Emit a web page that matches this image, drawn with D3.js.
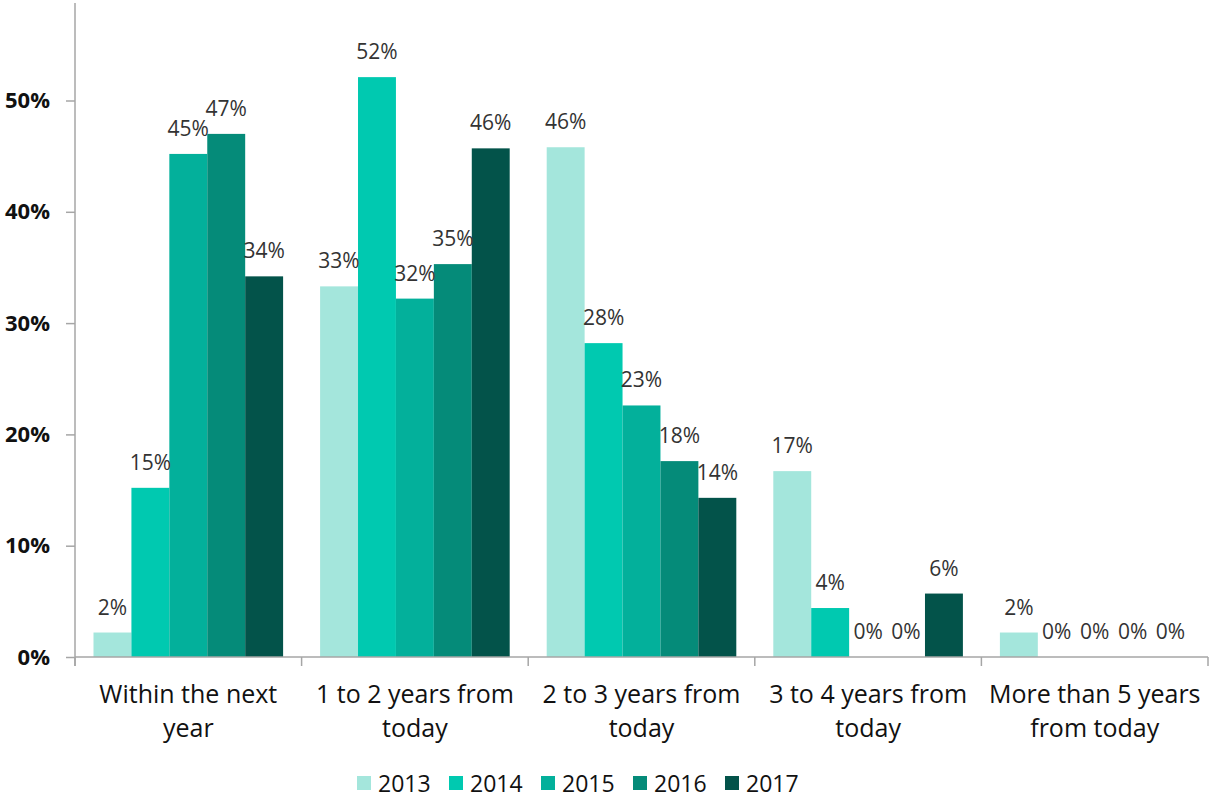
<!DOCTYPE html>
<html>
<head>
<meta charset="utf-8">
<script src="https://cdn.jsdelivr.net/npm/d3@7"></script>
<style>
  html, body { margin: 0; padding: 0; background: #fff; }
  svg { display: block; font-family: "Open Sans", "Noto Sans", sans-serif; }
</style>
</head>
<body>
<svg id="chart" width="1209" height="800"></svg>
<script>
// Timeframe categories (x axis)
const categories = [
  ["Within the next", "year"],
  ["1 to 2 years from", "today"],
  ["2 to 3 years from", "today"],
  ["3 to 4 years from", "today"],
  ["More than 5 years", "from today"]
];
const years = ["2013", "2014", "2015", "2016", "2017"];
const colors = ["#a4e6dc", "#00c9b0", "#03b09b", "#058b79", "#03534a"];

// Share of respondents per category, one array per survey year
const v2013 = [0.022, 0.333, 0.458, 0.167, 0.022];
const v2014 = [0.152, 0.521, 0.282, 0.044, 0.0];
const v2015 = [0.452, 0.322, 0.226, 0.0, 0.0];
const v2016 = [0.470, 0.353, 0.176, 0.0, 0.0];
const v2017 = [0.342, 0.457, 0.143, 0.057, 0.0];
const seriesValues = [v2013, v2014, v2015, v2016, v2017];

const yTicks = [0, 0.1, 0.2, 0.3, 0.4, 0.5];

const svg = d3.select("#chart");
const left = 75, right = 1208, bottom = 657;

const x0 = d3.scaleBand()
  .domain(d3.range(categories.length))
  .range([left, right])
  .paddingInner(0).paddingOuter(0);

const groupPad = 18.5;
const x1 = d3.scaleBand()
  .domain(years)
  .range([groupPad, x0.bandwidth() - groupPad])
  .padding(0);

const y = d3.scaleLinear().domain([0, 0.6]).range([bottom, bottom - 0.6 * 1113]);

const fmt = d3.format(".0%");

// Bars and value labels
const rows = [];
years.forEach((yr, si) => {
  seriesValues[si].forEach((v, ci) => rows.push({ yr, si, ci, v }));
});

svg.append("g").selectAll("rect")
  .data(rows)
  .join("rect")
  .attr("x", d => x0(d.ci) + x1(d.yr))
  .attr("width", x1.bandwidth())
  .attr("y", d => y(d.v))
  .attr("height", d => y(0) - y(d.v))
  .attr("fill", d => colors[d.si]);

svg.append("g").selectAll("text")
  .data(rows)
  .join("text")
  .attr("x", d => x0(d.ci) + x1(d.yr) + x1.bandwidth() / 2)
  .attr("y", d => y(d.v) - 18)
  .attr("text-anchor", "middle")
  .attr("font-size", 21)
  .attr("fill", "#333")
  .text(d => fmt(d.v));

// Y axis
const yAxis = svg.append("g")
  .attr("transform", `translate(${left},0)`)
  .call(d3.axisLeft(y).tickValues(yTicks).tickFormat(fmt).tickSize(9).tickSizeOuter(0));
yAxis.select(".domain").remove();
yAxis.append("line")
  .attr("x1", 0).attr("x2", 0).attr("y1", 3).attr("y2", bottom + 9)
  .attr("stroke", "#a6a6a6").attr("stroke-width", 1.5);
yAxis.selectAll(".tick line").attr("stroke", "#a6a6a6").attr("stroke-width", 1.5);
yAxis.selectAll(".tick text")
  .attr("x", -25)
  .attr("font-size", 22)
  .attr("font-weight", "bold")
  .attr("fill", "#111")
  .attr("font-family", "'Open Sans', sans-serif");

// X axis baseline and category separators
const xg = svg.append("g");
xg.append("line")
  .attr("x1", left).attr("x2", right).attr("y1", bottom).attr("y2", bottom)
  .attr("stroke", "#a6a6a6").attr("stroke-width", 1.5);
xg.selectAll("line.sep")
  .data(d3.range(categories.length + 1))
  .join("line")
  .attr("class", "sep")
  .attr("x1", i => i < categories.length ? x0(i) : right)
  .attr("x2", i => i < categories.length ? x0(i) : right)
  .attr("y1", bottom).attr("y2", bottom + 9)
  .attr("stroke", "#a6a6a6").attr("stroke-width", 1.5);

const catLabels = xg.selectAll("text.cat")
  .data(categories)
  .join("text")
  .attr("class", "cat")
  .attr("text-anchor", "middle")
  .attr("font-size", 25)
  .attr("fill", "#111")
  .attr("transform", (d, i) => `translate(${x0(i) + x0.bandwidth() / 2},703)`);
catLabels.selectAll("tspan")
  .data(d => d)
  .join("tspan")
  .attr("x", 0)
  .attr("dy", (d, i) => i === 0 ? 0 : 34)
  .text(d => d);

// Legend
const legend = svg.append("g").selectAll("g")
  .data(years)
  .join("g")
  .attr("transform", (d, i) => `translate(${357 + i * 92},776)`);
legend.append("rect")
  .attr("width", 14).attr("height", 14)
  .attr("fill", (d, i) => colors[i]);
legend.append("text")
  .attr("x", 21).attr("y", 16)
  .attr("font-size", 23)
  .attr("fill", "#111")
  .text(d => d);
</script>
</body>
</html>
